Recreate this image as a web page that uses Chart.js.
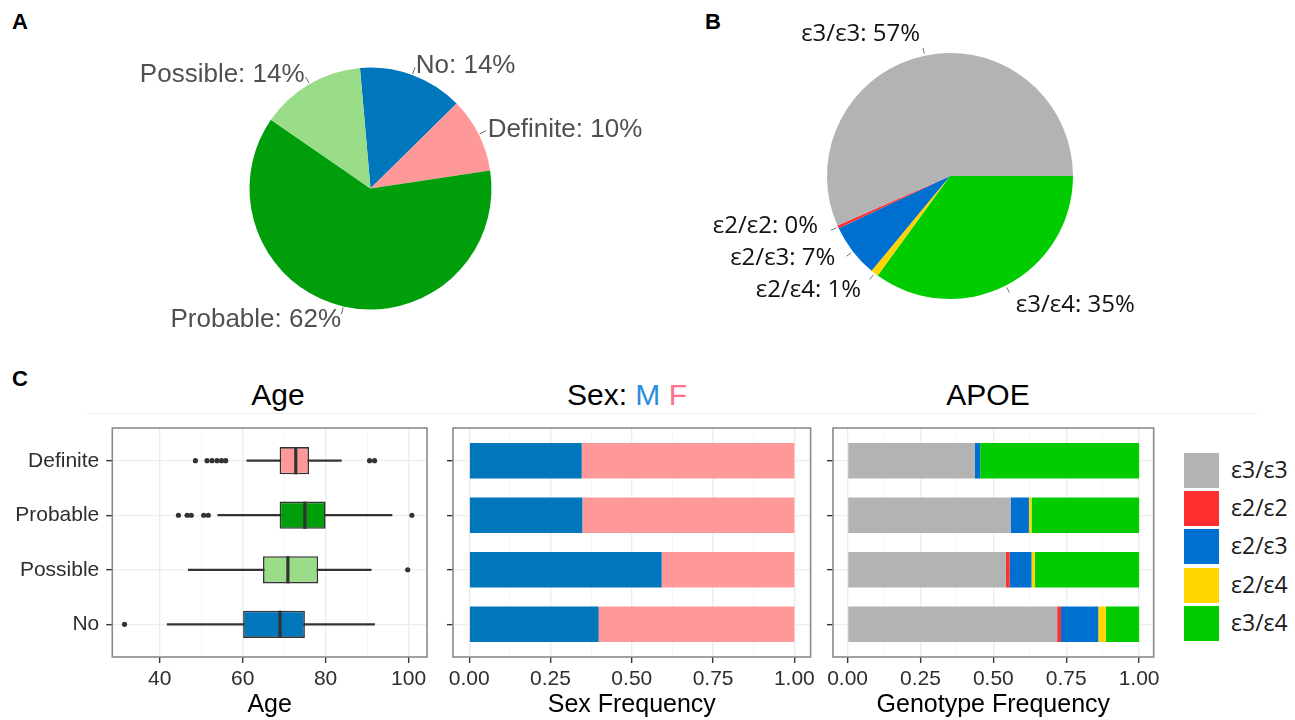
<!DOCTYPE html>
<html>
<head>
<meta charset="utf-8">
<script src="https://cdn.jsdelivr.net/npm/chart.js@4.4.1/dist/chart.umd.min.js"></script>
<style>
  html, body { margin: 0; padding: 0; background: #fff; }
  body { position: relative; width: 1295px; height: 720px; overflow: hidden;
         font-family: 'Liberation Sans', Arial, sans-serif; }
  canvas { position: absolute; }
  .tag { position: absolute; font-weight: bold; font-size: 22px; line-height: 1; color: #000; }
  .ptitle { position: absolute; font-size: 30px; line-height: 1; color: #000;
            transform: translateX(-50%); white-space: nowrap; }
  .rule { position: absolute; left: 87px; width: 1170px; top: 413px; height: 1px; background: #eeeeee; }
  .key { position: absolute; width: 35px; height: 35px; }
  .keylab { position: absolute; font-family: 'Open Sans', sans-serif; font-size: 23px; line-height: 1;
            color: #1a1a1a; white-space: nowrap; }
</style>
</head>
<body>
<div class="tag" style="left:12px;top:11px">A</div>
<div class="tag" style="left:705px;top:11px">B</div>
<div class="tag" style="left:12px;top:368px">C</div>

<div class="ptitle" style="left:278px;top:380px">Age</div>
<div class="ptitle" style="left:627px;top:380px">Sex: <span style="color:#2d8ce0">M</span> <span style="color:#ff6f8f">F</span></div>
<div class="ptitle" style="left:988px;top:380px">APOE</div>
<div class="rule"></div>

<canvas id="pieDiagnosis" width="570" height="320" style="left:100px;top:30px"></canvas>
<canvas id="pieGenotype" width="520" height="345" style="left:680px;top:5px"></canvas>
<canvas id="ageBox" width="431" height="316" style="left:0px;top:404px"></canvas>
<canvas id="sexBars" width="380" height="316" style="left:440px;top:404px"></canvas>
<canvas id="apoeBars" width="344" height="316" style="left:820px;top:404px"></canvas>
<div id="legend"></div>

<script>
// ---- Diagnosis shares (panel A), clockwise from just left of 12 o'clock
const diagnosisLabels = ['No', 'Definite', 'Probable', 'Possible'];
const diagnosisShare = [14, 10, 62, 14];
const diagnosisColors = ['#0077bb', '#ff9999', '#009e0b', '#99dd88'];

// ---- APOE genotype shares (panel B)
const genotypes = ['ε3/ε3', 'ε2/ε2', 'ε2/ε3', 'ε2/ε4', 'ε3/ε4'];
const genotypeShare = [56.6, 0.4, 7.0, 1.0, 35.0];
const genotypeColors = ['#b3b3b3', '#ff2f2f', '#0070d0', '#ffd400', '#00cc00'];

// ---- Panel C rows, top to bottom
const groups = ['Definite', 'Probable', 'Possible', 'No'];
const groupColors = ['#ff9999', '#009e0b', '#99dd88', '#0077bb'];

// Age summaries per group
const ageWhiskerLow  = [61.0, 54.0, 46.9, 41.8];
const ageQ1          = [68.9, 68.9, 64.9, 60.1];
const ageMedian      = [72.8, 75.0, 70.9, 69.0];
const ageQ3          = [76.0, 80.0, 78.2, 75.0];
const ageWhiskerHigh = [83.8, 96.0, 91.0, 91.8];
const ageOutliers = [
  [48.6, 51.4, 52.6, 53.8, 54.9, 55.9, 90.6, 91.8],
  [44.5, 46.6, 47.6, 50.6, 51.7, 100.8],
  [99.8],
  [31.5]
];
const ageTicks = [30, 40, 50, 60, 70, 80, 90, 100];
const ageTickLabels = [40, 60, 80, 100];

// Sex frequency per group
const sexMale   = [0.346, 0.348, 0.592, 0.398];
const sexFemale = [0.654, 0.652, 0.408, 0.602];
const sexColors = ['#0077bb', '#ff9999'];

// Genotype frequency per group (same order as genotypes)
const apoeE3E3 = [0.437, 0.559, 0.543, 0.719];
const apoeE2E2 = [0.000, 0.000, 0.013, 0.013];
const apoeE2E3 = [0.018, 0.063, 0.075, 0.128];
const apoeE2E4 = [0.000, 0.009, 0.011, 0.026];
const apoeE3E4 = [0.545, 0.369, 0.358, 0.114];

const freqTicks = [0, 0.125, 0.25, 0.375, 0.5, 0.625, 0.75, 0.875, 1];
const freqTickLabels = [0, 0.25, 0.5, 0.75, 1];

// ---------------------------------------------------------------
Chart.defaults.font.family = "'Liberation Sans', Arial, sans-serif";
Chart.defaults.animation = false;
Chart.defaults.responsive = false;
Chart.defaults.devicePixelRatio = 1;
Chart.defaults.plugins.legend.display = false;
Chart.defaults.plugins.tooltip.enabled = false;

// Text labels around a pie, each pointing at the middle of its slice
const sliceLabels = {
  id: 'sliceLabels',
  afterDraw(chart, args, o) {
    const ctx = chart.ctx;
    const ds = chart.data.datasets[0];
    const total = ds.data.reduce((a, b) => a + b, 0);
    const items = chart.getDatasetMeta(0).data.map((arc, i) => {
      const p = arc.getProps(['x', 'y', 'startAngle', 'endAngle', 'outerRadius'], true);
      const mid = (p.startAngle + p.endAngle) / 2;
      const dx = Math.cos(mid), dy = Math.sin(mid);
      return {
        text: chart.data.labels[i] + ': ' + Math.round(ds.data[i] / total * 100) + '%',
        dx, dy, cx: p.x, cy: p.y, r: p.outerRadius,
        ax: p.x + dx * (p.outerRadius + o.dist),
        ay: p.y + dy * (p.outerRadius + o.dist) + Math.max(0, dy) * o.drop
      };
    });
    if (o.gap) {
      for (const side of [-1, 1]) {
        const list = items.filter(it => (it.dx >= 0 ? 1 : -1) === side).sort((a, b) => b.ay - a.ay);
        for (let k = 1; k < list.length; k++) {
          list[k].ay = Math.min(list[k].ay, list[k - 1].ay - o.gap);
        }
      }
    }
    ctx.save();
    ctx.font = o.font;
    items.forEach(it => {
      ctx.strokeStyle = o.leaderColor;
      ctx.lineWidth = 1;
      ctx.beginPath();
      ctx.moveTo(it.cx + it.dx * (it.r + o.leader[0]), it.cy + it.dy * (it.r + o.leader[0]));
      ctx.lineTo(it.cx + it.dx * (it.r + o.leader[1]), it.cy + it.dy * (it.r + o.leader[1]));
      ctx.stroke();
      ctx.fillStyle = o.color;
      ctx.textAlign = it.dx >= 0 ? 'left' : 'right';
      ctx.textBaseline = 'middle';
      ctx.fillText(it.text, it.ax, it.ay);
    });
    ctx.restore();
  }
};

// Grey frame round the plotting area
const panelFrame = {
  id: 'panelFrame',
  afterDraw(chart, args, o) {
    const { ctx, chartArea: a } = chart;
    ctx.save();
    ctx.strokeStyle = o.color;
    ctx.lineWidth = o.width;
    ctx.strokeRect(a.left, a.top, a.right - a.left, a.bottom - a.top);
    ctx.restore();
  }
};

// Thick median line across each box
const medianMarks = {
  id: 'medianMarks',
  afterDatasetsDraw(chart, args, o) {
    const ctx = chart.ctx;
    const xs = chart.scales.x;
    const meta = chart.getDatasetMeta(o.boxDataset);
    ctx.save();
    ctx.strokeStyle = o.color;
    ctx.lineWidth = o.width;
    meta.data.forEach((bar, i) => {
      const { y, height } = bar.getProps(['y', 'height'], true);
      const px = xs.getPixelForValue(o.values[i]);
      ctx.beginPath();
      ctx.moveTo(px, y - height / 2);
      ctx.lineTo(px, y + height / 2);
      ctx.stroke();
    });
    ctx.restore();
  }
};

// ---- Panel A
new Chart(document.getElementById('pieDiagnosis'), {
  type: 'pie',
  data: {
    labels: diagnosisLabels,
    datasets: [{ data: diagnosisShare, backgroundColor: diagnosisColors, borderWidth: 0, hoverOffset: 0 }]
  },
  options: {
    rotation: -5,
    layout: { padding: { left: 149.5, top: 37.5, right: 178.5, bottom: 40.5 } },
    plugins: {
      sliceLabels: { dist: 10, drop: 4, gap: 0, leader: [1, 8], leaderColor: '#666',
                     font: "26px 'Liberation Sans', Arial, sans-serif", color: '#505050' }
    }
  },
  plugins: [sliceLabels]
});

// ---- Panel B (clockwise from 3 o'clock: genotypes in reverse order)
new Chart(document.getElementById('pieGenotype'), {
  type: 'pie',
  data: {
    labels: genotypes.slice().reverse(),
    datasets: [{
      data: genotypeShare.slice().reverse(),
      backgroundColor: genotypeColors.slice().reverse(),
      borderWidth: 0, hoverOffset: 0
    }]
  },
  options: {
    rotation: 90,
    layout: { padding: { left: 147, top: 48, right: 127, bottom: 51 } },
    plugins: {
      sliceLabels: { dist: 22, drop: 0, gap: 32, leader: [2, 8], leaderColor: '#777',
                     font: "24px 'Open Sans', sans-serif", color: '#111' }
    }
  },
  plugins: [sliceLabels]
});

// ---- Panel C shared axis setup
const rowPos = groups.map((g, i) => groups.length - i);
const tickFont = { size: 21, family: "'Liberation Sans', Arial, sans-serif" };
const tickColor = '#2e2e2e';
const topPad = 24;

function yAxis(width, showLabels) {
  return {
    type: 'linear', min: 0.4, max: 4.6, offset: false,
    afterBuildTicks: s => { s.ticks = rowPos.map(v => ({ value: v })); },
    afterFit: s => { s.width = width; },
    ticks: {
      autoSkip: false, padding: 7, color: tickColor, font: tickFont,
      callback: v => showLabels ? groups[rowPos.indexOf(v)] : ''
    },
    grid: { offset: false, color: '#eeeeee', lineWidth: 1.3, tickLength: 6, tickColor: '#333', tickWidth: 1.4 },
    border: { display: false }
  };
}

function xAxis(min, max, gridVals, labelVals, fmt, title) {
  const isMajor = v => labelVals.some(m => Math.abs(m - v) < 1e-9);
  return {
    type: 'linear', min, max, offset: false,
    afterBuildTicks: s => { s.ticks = gridVals.map(v => ({ value: v })); },
    afterFit: s => { s.height = 63; },
    ticks: {
      autoSkip: false, maxRotation: 0, padding: 4, color: tickColor, font: tickFont,
      callback: v => isMajor(v) ? fmt(v) : ''
    },
    grid: {
      offset: false,
      color: c => (c.tick && isMajor(c.tick.value)) ? '#ececec' : '#f5f5f5',
      lineWidth: c => (c.tick && isMajor(c.tick.value)) ? 1.3 : 0.8,
      tickLength: 6,
      tickColor: c => (c.tick && isMajor(c.tick.value)) ? '#333' : 'rgba(0,0,0,0)',
      tickWidth: 1.4
    },
    border: { display: false },
    title: { display: true, text: title, color: '#000',
             font: { size: 25, family: "'Liberation Sans', Arial, sans-serif" },
             padding: { top: 0, bottom: 0 } }
  };
}

// ---- Panel C: age box plots
new Chart(document.getElementById('ageBox'), {
  type: 'bar',
  data: {
    datasets: [
      {
        label: 'whisker', grouped: false, order: 3,
        data: groups.map((g, i) => ({ y: rowPos[i], x: [ageWhiskerLow[i], ageWhiskerHigh[i]] })),
        backgroundColor: '#333', borderWidth: 0, maxBarThickness: 1.6,
        categoryPercentage: 1, barPercentage: 1
      },
      {
        label: 'box', grouped: false, order: 2,
        data: groups.map((g, i) => ({ y: rowPos[i], x: [ageQ1[i], ageQ3[i]] })),
        backgroundColor: groupColors, borderColor: '#333', borderWidth: 1.6, borderSkipped: false,
        categoryPercentage: 1, barPercentage: 0.5
      },
      {
        type: 'scatter', label: 'outlier', order: 1,
        data: ageOutliers.flatMap((vals, i) => vals.map(v => ({ x: v, y: rowPos[i] }))),
        backgroundColor: '#333', borderWidth: 0, pointRadius: 2.6
      }
    ]
  },
  options: {
    indexAxis: 'y',
    layout: { padding: { left: 0, top: topPad, right: 2.5, bottom: 0 } },
    scales: {
      x: xAxis(28.55, 104.45, ageTicks, ageTickLabels, v => String(v), 'Age'),
      y: yAxis(112.3, true)
    },
    plugins: {
      medianMarks: { boxDataset: 1, values: ageMedian, color: '#333', width: 3.2 },
      panelFrame: { color: '#8a8a8a', width: 1.6 }
    }
  },
  plugins: [medianMarks, panelFrame]
});

// ---- Panel C: stacked frequency bars
function stackedBars(canvasId, series, padRight, title) {
  return new Chart(document.getElementById(canvasId), {
    type: 'bar',
    data: {
      datasets: series.map(s => ({
        label: s.label,
        data: groups.map((g, i) => ({ y: rowPos[i], x: s.values[i] })),
        backgroundColor: s.color, borderWidth: 0,
        categoryPercentage: 1, barPercentage: 0.65
      }))
    },
    options: {
      indexAxis: 'y',
      layout: { padding: { left: 0, top: topPad, right: padRight, bottom: 0 } },
      scales: {
        x: Object.assign(xAxis(-0.05, 1.05, freqTicks, freqTickLabels, v => v.toFixed(2), title), { stacked: true }),
        y: Object.assign(yAxis(13, false), { stacked: true })
      },
      plugins: { panelFrame: { color: '#8a8a8a', width: 1.6 } }
    },
    plugins: [panelFrame]
  });
}

stackedBars('sexBars', [
  { label: 'M', values: sexMale, color: sexColors[0] },
  { label: 'F', values: sexFemale, color: sexColors[1] }
], 9.4, 'Sex Frequency');

const apoeSeries = [apoeE3E3, apoeE2E2, apoeE2E3, apoeE2E4, apoeE3E4];
stackedBars('apoeBars', genotypes.map((g, k) => ({ label: g, values: apoeSeries[k], color: genotypeColors[k] })),
  10, 'Genotype Frequency');

// ---- Genotype key
const legend = document.getElementById('legend');
genotypes.forEach((g, k) => {
  const top = 452.7 + k * 38.3;
  const key = document.createElement('div');
  key.className = 'key';
  key.style.left = '1184px';
  key.style.top = top + 'px';
  key.style.background = genotypeColors[k];
  legend.appendChild(key);
  const lab = document.createElement('div');
  lab.className = 'keylab';
  lab.style.left = '1231px';
  lab.style.top = (top + 5) + 'px';
  lab.textContent = g;
  legend.appendChild(lab);
});
</script>
</body>
</html>
